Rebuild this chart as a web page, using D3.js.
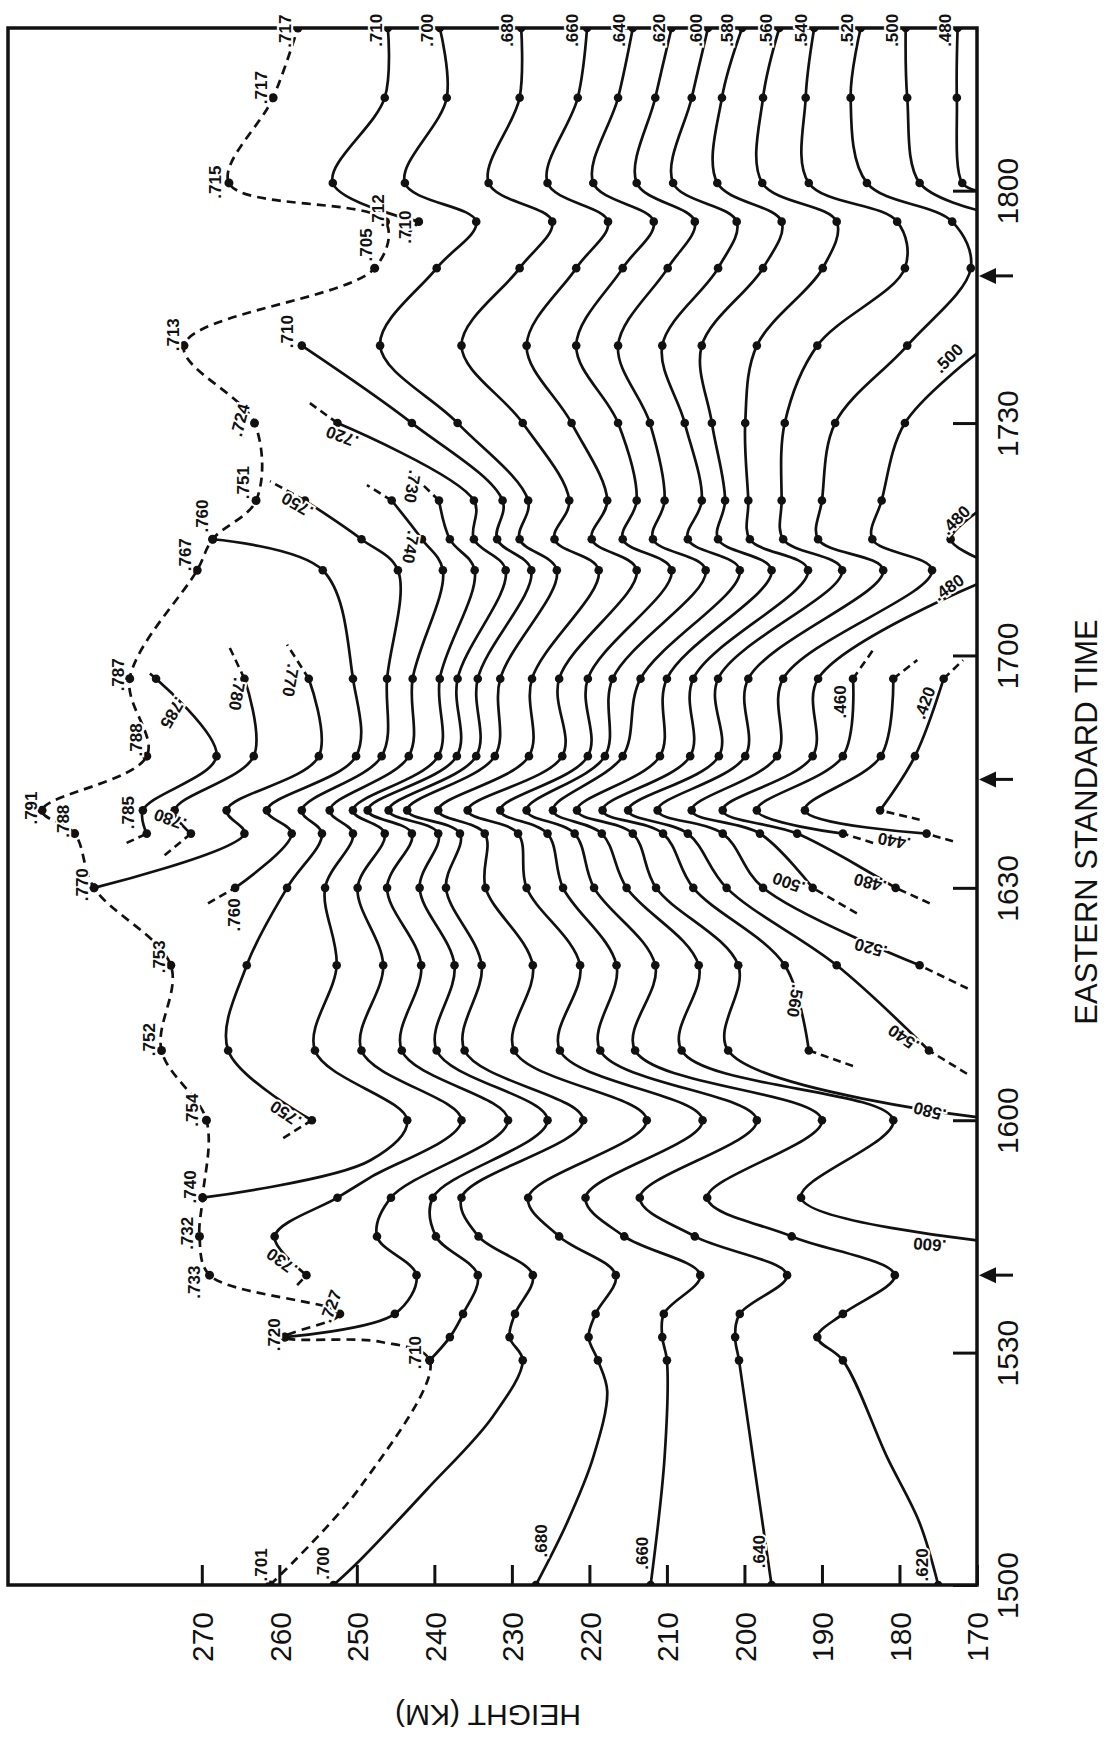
<!DOCTYPE html>
<html><head><meta charset="utf-8">
<script src="https://cdn.jsdelivr.net/npm/d3@7"></script>
<style>body{margin:0;background:#fff}svg{display:block}</style>
</head><body>
<svg id="chart" width="1106" height="1737"></svg>
<script>
// minutes after 15:00 EST at which soundings were taken (dots)
const sampleTimes = [0,29,32,35,40,45,50,60,69,80,90,97,100,107,117,131,135,140,150,160,170,176,181,192,201];
const timeTicks = [0,30,60,90,120,150,180];
const timeTickLabels = ["1500","1530","1600","1630","1700","1730","1800"];
const heightTicks = [170,180,190,200,210,220,230,240,250,260,270];
const arrowTimes = [40,104,169];

// peak (dashed) curve: [minutes, height km]
const cPeak = [[0,261.2],[12.6,249.6],[29,240.6],[31.4,247.0],[32,259.3],[35,252.2],[40,269.0],[45,270.3],[50,269.9],[60,269.4],[69,275.2],[80,274.0],[90,283.9],[97,286.4],[100,290.6],[107,277.1],[117,279.3],[131,270.6],[135,268.6],[140,263.0],[150,263.2],[160,272.3],[170,247.7],[176,246.3],[181,266.5],[192,260.8],[201,257.6]];

// iso-frequency contours: [minutes, height km, dashedEnd?]
const c785 = [[95.8,279.7,1],[97,277.1],[100,277.6],[107,268.1],[117,275.9],[118,277.1,1]];
const c780 = [[94.2,274.8,1],[97,271.4],[100,273.5],[107,263.3],[117,264.5],[121,266.4,1]];
const c770 = [[90,283.9],[97,264.5],[100,266.8],[107,254.9],[117,256.2],[121.4,259.0,1]];
const c760 = [[88,269.2,1],[90,265.7],[97,258.4],[100,261.6],[107,250.1],[117,250.5],[131,254.4],[135,268.6]];
const c750 = [[57.7,259.5,1],[60,255.8],[69,266.6],[80,264.2],[90,259.0],[97,254.5],[100,257.1],[107,246.8],[117,246.1],[131,244.7],[135,249.4],[140,256.7],[142.5,261.2,1]];
const c740 = [[50,269.9],[54.8,248.3],[60,243.5],[69,255.4],[80,252.6],[90,254.1],[97,250.5],[100,253.5],[107,243.3],[117,242.8],[131,238.9],[135,241.6],[140,245.5],[142,248.7,1]];
const c730 = [[38.7,257.7,1],[40,256.5],[45,260.6],[50,252.5],[52.6,248.3],[60,236.5],[69,249.4],[80,246.6],[90,249.9],[97,246.4],[100,250.5],[107,239.5],[117,239.3],[131,234.8],[135,238.0],[140,239.4],[143,242.5,1]];
const c720 = [[32,259.3],[35,245.1],[40,242.3],[45,247.4],[50,245.6],[60,230.5],[69,244.2],[80,241.7],[90,246.1],[97,242.9],[100,248.6],[107,237.1],[117,237.0],[131,230.8],[135,234.9],[140,234.9],[150,252.5],[152.6,256.1,1]];
const c710a = [[29,240.6],[32,238.0],[35,236.3],[40,234.4],[45,239.8],[50,240.2],[60,225.4],[69,239.7],[80,237.4],[90,241.9],[97,239.5],[100,245.9],[107,234.6],[117,234.4],[131,227.5],[135,231.9],[140,231.2],[150,242.9],[160,257.1]];
const c710b = [[174.2,243.6,1],[176,242.0],[181,253.1],[192,246.4],[201,246.0]];
const c700 = [[0,253.0],[3.2,249.6],[12.3,241.0],[21.7,232.5],[29,228.6],[32,230.3],[35,229.6],[40,227.3],[45,234.3],[50,236.5],[60,220.8],[69,236.1],[80,233.9],[90,238.5],[97,236.7],[100,243.5],[107,232.2],[117,231.5],[131,224.2],[135,229.0],[140,227.9],[150,237.0],[160,247.0],[170,239.7],[176,234.6],[181,243.8],[192,238.4],[201,239.3]];
const c680 = [[0,226.9],[8,222.9],[16.5,219.5],[25,217.7],[29,218.9],[32,220.1],[35,219.2],[40,216.6],[45,223.9],[50,227.9],[60,212.6],[69,229.7],[80,227.3],[90,233.4],[97,233.5],[100,239.5],[107,227.8],[117,227.4],[131,218.8],[135,224.5],[140,222.6],[150,228.6],[160,236.5],[170,229.0],[176,224.8],[181,233.0],[192,229.0],[201,228.8]];
const c660 = [[0,212.1],[16.5,210.3],[29,210.0],[32,210.6],[35,210.4],[40,205.7],[45,215.5],[50,220.5],[60,205.4],[69,223.8],[80,221.2],[90,228.1],[97,229.2],[100,235.7],[107,223.5],[117,223.9],[131,213.9],[135,219.7],[140,217.7],[150,222.3],[160,228.1],[170,221.7],[176,217.6],[181,225.4],[192,221.5],[201,220.3]];
const c640 = [[0,196.5],[16.5,198.9],[29,200.7],[32,201.2],[35,200.6],[40,194.5],[45,206.4],[50,213.5],[60,198.4],[69,218.6],[80,216.5],[90,223.4],[97,225.4],[100,231.5],[107,220.2],[117,220.2],[131,209.4],[135,215.7],[140,213.9],[150,216.3],[160,221.7],[170,215.7],[176,211.7],[181,219.5],[192,216.3],[201,214.4]];
const c620 = [[0,175.0],[8,177.4],[16.5,181.6],[29,187.3],[32,190.6],[35,187.3],[40,180.6],[45,193.9],[50,204.8],[60,190.0],[69,214.1],[80,211.5],[90,219.4],[97,221.9],[100,228.1],[107,218.0],[117,217.0],[131,205.0],[135,211.8],[140,210.3],[150,212.2],[160,216.3],[170,209.9],[176,206.4],[181,213.9],[192,211.5],[201,209.4]];
const c600 = [[44.5,170.0],[50,192.7],[60,180.8],[69,208.1],[80,205.9],[90,215.2],[97,218.4],[100,224.7],[107,215.7],[117,213.4],[131,200.6],[135,207.3],[140,205.5],[150,207.7],[160,210.6],[170,203.4],[176,201.0],[181,209.2],[192,206.8],[201,204.7]];
const c580 = [[60.4,170.0],[69,202.1],[80,200.8],[90,211.4],[97,214.4],[100,221.6],[107,210.9],[117,210.0],[131,196.5],[135,203.4],[140,202.5],[150,204.2],[160,205.5],[170,197.6],[176,195.2],[181,203.5],[192,202.9],[201,200.3]];
const c560 = [[67,186.0,1],[69,191.7],[80,194.8],[90,206.6],[97,210.5],[100,218.3],[107,207.0],[117,206.6],[131,191.8],[135,199.3],[140,199.5],[150,199.9],[160,198.4],[170,189.9],[176,188.1],[181,197.7],[192,197.6],[201,195.5]];
const c540 = [[66,171.3,1],[69,176.2],[80,188.1],[90,202.3],[97,207.3],[100,215.0],[107,203.3],[117,203.4],[131,187.4],[135,195.0],[140,195.2],[150,194.8],[160,190.6],[170,179.3],[176,180.3],[181,191.7],[192,192.1],[201,191.0]];
const c520 = [[77,171.2,1],[80,177.4],[90,197.6],[97,202.8],[100,211.2],[107,199.9],[117,199.5],[131,182.1],[135,190.5],[140,190.0],[150,188.3],[160,179.0],[170,170.8],[176,173.2],[181,184.2],[192,186.3],[201,185.0]];
const c500a = [[86.7,185.5,1],[90,191.2],[97,198.0],[100,206.8],[107,195.8],[117,195.0],[131,175.8],[135,183.5],[140,182.3],[150,179.3],[159,170.0]];
const c500b = [[177.5,170.0],[181,177.4],[192,179.0],[201,179.2]];
const c480a = [[88,176.1,1],[90,180.5],[97,193.2],[100,202.8],[107,191.2],[117,190.5],[129.2,170.0]];
const c480b = [[132.6,170.0],[135,173.4],[138.5,170.0]];
const c480c = [[180,170.0],[181,171.9],[192,172.6],[201,172.5]];
const c460 = [[95.8,183.4,1],[97,187.3],[100,198.4],[107,187.3],[117,186.0],[121,183.2,1]];
const c440 = [[96,173.1,1],[97,176.5],[100,192.2],[107,182.4],[117,180.8],[119.4,177.7,1]];
const c420 = [[98.8,177.4,1],[100,182.5],[107,178.0],[117,174.3],[119.4,171.8,1]];

const contours = [c785,c780,c770,c760,c750,c740,c730,c720,c710a,c710b,c700,c680,c660,c640,c620,c600,c580,c560,c540,c520,c500a,c500b,c480a,c480b,c480c,c460,c440,c420];

// labels: [text, minutes, height km, angle]
const labels = [
 [".710",200.7,247.5,-90],[".700",200.7,241.0,-90],[".680",200.7,230.6,-90],[".660",200.7,222.3,-90],[".640",200.7,216.2,-90],[".620",200.7,211.0,-90],[".600",200.7,206.3,-90],[".580",200.7,202.3,-90],[".560",200.7,197.2,-90],[".540",200.7,192.7,-90],[".520",200.7,186.8,-90],[".500",200.7,181.0,-90],[".480",200.7,174.1,-90],
 [".717",200.6,259.3,-90],[".717",193.3,262.4,-90],[".715",181.1,268.3,-90],[".712",177.4,247.3,-90],[".710",175.3,243.8,-90],[".705",173.0,248.8,-90],[".713",161.4,273.7,-90],[".710",161.8,259.0,-90],[".724",150.4,265.1,-75],[".720",148.2,251.9,200],
 [".751",142.3,264.7,-90],[".760",138.0,270.0,-90],[".767",133.0,272.2,-90],[".750",139.4,257.7,210],[".740",134.0,243.0,100],[".730",141.8,242.8,100],
 [".787",117.5,280.8,-90],[".785",112.6,273.7,120],[".780",115.0,265.4,100],[".770",116.8,258.5,100],[".788",109.1,278.5,-90],[".791",100.3,292.1,-90],[".788",98.6,287.9,-90],[".785",99.7,279.5,-90],[".780",98.8,274.1,200],
 [".770",90.4,285.5,-90],[".760",86.5,265.9,-90],[".753",81.1,275.5,-90],[".752",70.4,276.8,-90],[".754",61.3,271.3,-90],[".750",60.8,259.2,214],[".740",51.4,271.5,-90],[".732",45.4,271.9,-90],[".733",39.1,271.0,-90],[".730",41.7,259.7,216],[".727",36.0,253.4,-70],[".720",32.3,260.7,-90],[".710",30.0,242.5,-90],
 [".701",2.6,262.4,-90],[".700",2.8,254.4,-90],[".680",5.7,226.3,-90],[".660",4.1,213.2,-90],[".640",4.3,198.1,-90],[".620",2.6,177.1,-90],
 [".500",158.4,173.7,-45],[".480",137.5,172.8,-45],[".480",128.8,173.7,-35],[".460",114.0,187.7,-90],[".420",113.9,176.8,-70],[".440",96.0,180.7,190],
 [".500",90.6,194.3,200],[".480",90.6,183.8,195],[".520",82.2,183.7,195],[".560",75.4,193.4,100],[".540",70.6,179.5,215],[".580",61.1,176.1,195],[".600",43.9,176.1,185]
];

const svg = d3.select("#chart");
const x = d3.scaleLinear().domain([170,295]).range([977,8]);
const y = d3.scaleLinear().domain([0,201]).range([1585,28]);
const X0 = x(295), X1 = x(170), Y0 = y(201), Y1 = y(0);
const INK = "#111";
const FONT = "'Liberation Sans', Arial, sans-serif";

svg.append("rect").attr("width",1106).attr("height",1737).attr("fill","#fff");
svg.append("defs").append("clipPath").attr("id","plot")
  .append("rect").attr("x",X0).attr("y",Y0).attr("width",X1-X0).attr("height",Y1-Y0);

const plot = svg.append("g").attr("clip-path","url(#plot)");
const curve = d3.line().x(d=>x(d[1])).y(d=>y(d[0])).curve(d3.curveCatmullRom.alpha(0.5));
const straight = d3.line().x(d=>x(d[1])).y(d=>y(d[0]));
const isSample = t => sampleTimes.includes(t);

contours.forEach(pts => {
  let s = 0, e = pts.length;
  if (pts[0][2]) {
    plot.append("path").attr("d", straight([pts[0],pts[1]]))
      .attr("fill","none").attr("stroke",INK).attr("stroke-width",2.6).attr("stroke-dasharray","8,5");
    s = 1;
  }
  if (pts[e-1][2]) {
    plot.append("path").attr("d", straight([pts[e-2],pts[e-1]]))
      .attr("fill","none").attr("stroke",INK).attr("stroke-width",2.6).attr("stroke-dasharray","8,5");
    e = e - 1;
  }
  const main = pts.slice(s,e);
  plot.append("path").attr("d", curve(main))
    .attr("fill","none").attr("stroke",INK).attr("stroke-width",2.7).attr("stroke-linejoin","round");
  plot.selectAll(null).data(main.filter(p=>isSample(p[0]))).join("circle")
    .attr("cx",d=>x(d[1])).attr("cy",d=>y(d[0])).attr("r",4.3).attr("fill",INK);
});

// peak curve
plot.append("path").attr("d", curve(cPeak)).attr("fill","none").attr("stroke",INK)
  .attr("stroke-width",2.7).attr("stroke-dasharray","9,6");
plot.selectAll(null).data(cPeak.filter(p=>isSample(p[0]))).join("circle")
  .attr("cx",d=>x(d[1])).attr("cy",d=>y(d[0])).attr("r",4.5).attr("fill",INK);

// frame
svg.append("rect").attr("x",X0).attr("y",Y0).attr("width",X1-X0).attr("height",Y1-Y0)
  .attr("fill","none").attr("stroke",INK).attr("stroke-width",3.5);

// labels
svg.append("g").selectAll("text").data(labels).join("text")
  .attr("transform",d=>`translate(${x(d[2])},${y(d[1])}) rotate(${d[3]})`)
  .attr("text-anchor","middle").attr("dy","0.36em")
  .attr("font-family",FONT).attr("font-size",17).attr("font-weight","bold")
  .attr("fill",INK).attr("stroke","#fff").attr("stroke-width",4).attr("paint-order","stroke")
  .text(d=>d[0]);

// time axis (right side of rotated chart)
const tAxis = svg.append("g").attr("transform",`translate(${X1},0)`)
  .call(d3.axisLeft(y).tickValues(timeTicks).tickSize(24).tickFormat((d,i)=>timeTickLabels[i]));
tAxis.select(".domain").remove();
tAxis.selectAll("line").attr("stroke",INK).attr("stroke-width",3);
tAxis.selectAll("text").attr("x",0).attr("y",0).attr("dy","0.36em")
  .attr("transform","translate(30,0) rotate(-90)").attr("text-anchor","middle")
  .attr("font-family",FONT).attr("font-size",30).attr("fill",INK);

// height axis (bottom of rotated chart)
const hAxis = svg.append("g").attr("transform",`translate(0,${Y1})`)
  .call(d3.axisTop(x).tickValues(heightTicks).tickSize(20));
hAxis.select(".domain").remove();
hAxis.selectAll("line").attr("stroke",INK).attr("stroke-width",3);
hAxis.selectAll("text").attr("x",0).attr("y",0).attr("dy","0.36em")
  .attr("transform","translate(0,52) rotate(-90)").attr("text-anchor","middle")
  .attr("font-family",FONT).attr("font-size",30).attr("fill",INK);

// arrows marking times on the time axis
const arr = svg.append("g");
arrowTimes.forEach(t => {
  const yy = y(t);
  arr.append("line").attr("x1",X1+14).attr("x2",X1+36).attr("y1",yy).attr("y2",yy)
    .attr("stroke",INK).attr("stroke-width",3);
  arr.append("path").attr("d",`M${X1+2},${yy} L${X1+19},${yy-8} L${X1+19},${yy+8} Z`).attr("fill",INK);
});

// axis titles
svg.append("text").attr("transform",`translate(488,1716) rotate(180)`)
  .attr("text-anchor","middle").attr("dy","0.36em")
  .attr("font-family",FONT).attr("font-size",30).attr("fill",INK).text("HEIGHT (KM)");
svg.append("text").attr("transform",`translate(1086,822) rotate(-90)`)
  .attr("text-anchor","middle").attr("dy","0.36em")
  .attr("font-family",FONT).attr("font-size",31).attr("fill",INK).text("EASTERN STANDARD TIME");
</script>
</body></html>
